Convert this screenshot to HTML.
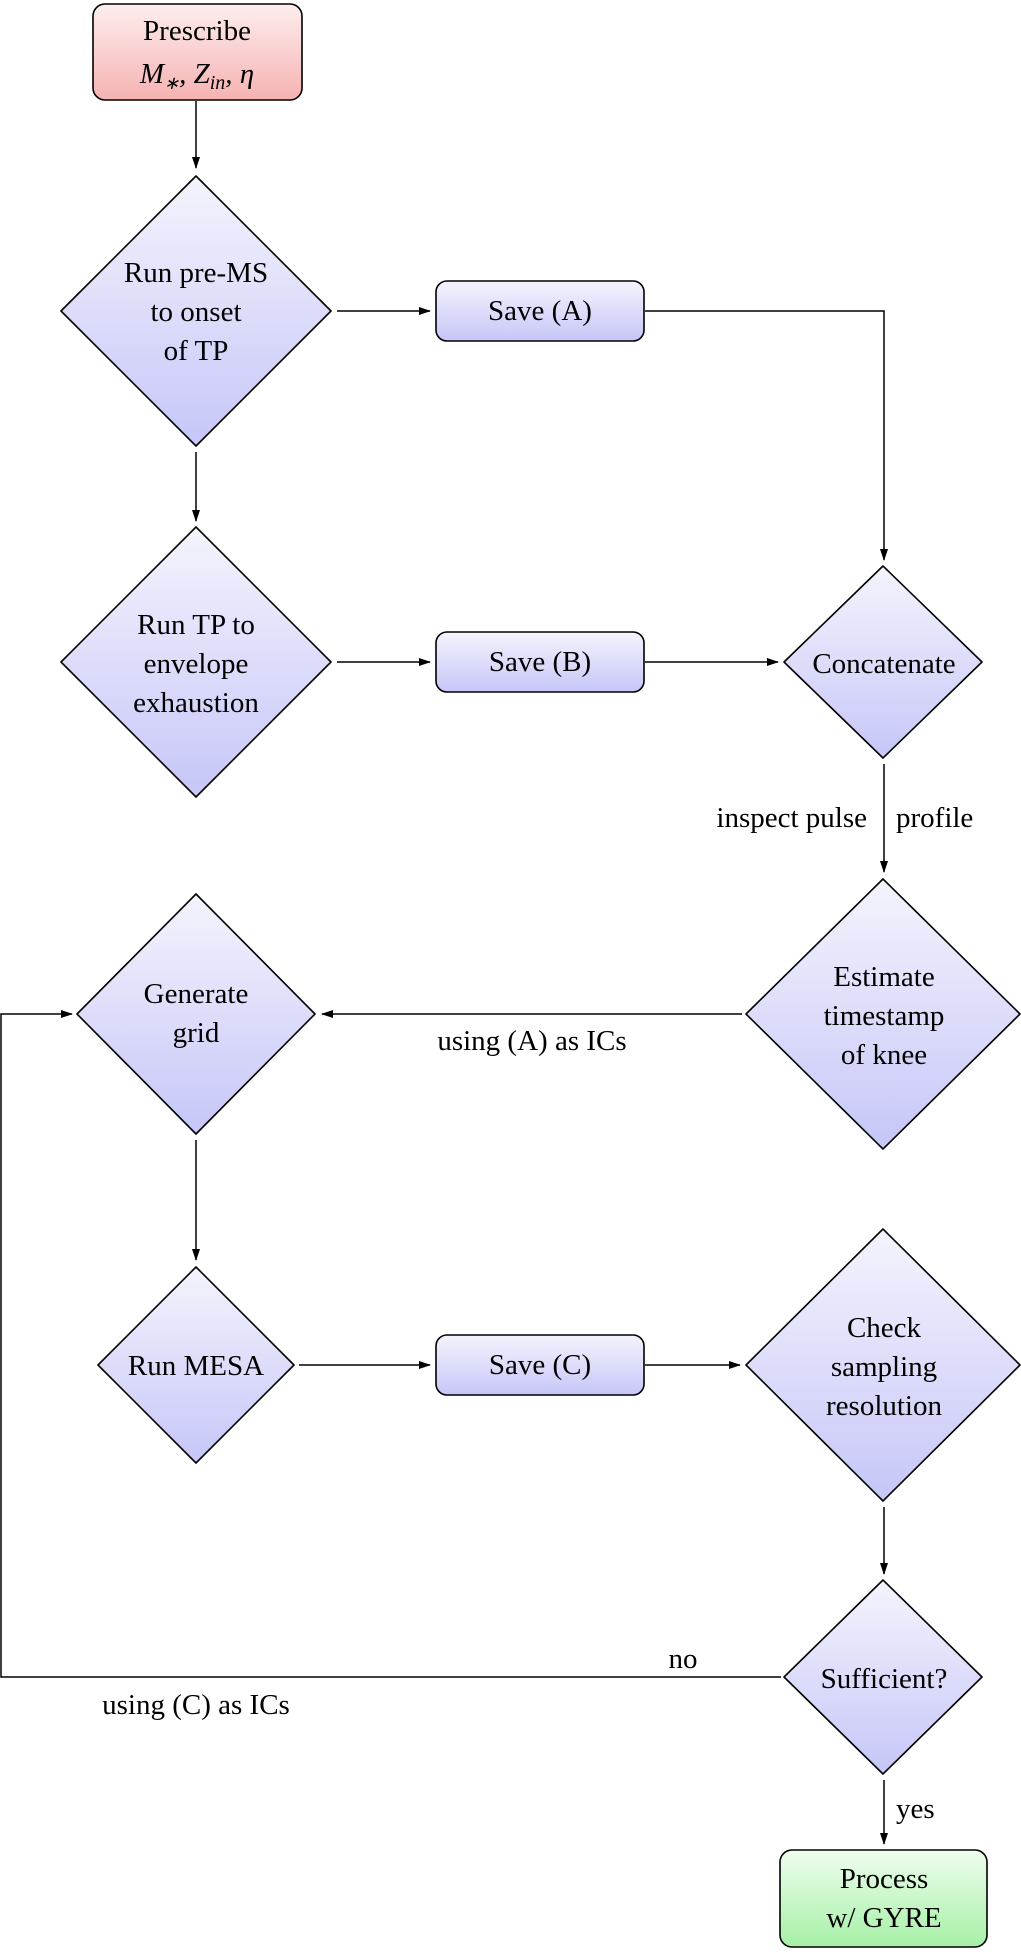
<!DOCTYPE html>
<html><head><meta charset="utf-8"><style>
html,body{margin:0;padding:0;background:#fff}
svg{display:block}
text{font-family:"Liberation Serif",serif;font-size:29px;fill:#000;text-anchor:middle}
.l{text-anchor:start}
</style></head><body>
<svg width="1021" height="1952" viewBox="0 0 1021 1952" xmlns="http://www.w3.org/2000/svg">
<defs>
<linearGradient id="b" x1="0" y1="0" x2="0" y2="1"><stop offset="0" stop-color="#f4f4fd"/><stop offset="1" stop-color="#c6c6f8"/></linearGradient>
<linearGradient id="r" x1="0" y1="0" x2="0" y2="1"><stop offset="0" stop-color="#fdeeee"/><stop offset="1" stop-color="#f6b2b2"/></linearGradient>
<linearGradient id="g" x1="0" y1="0" x2="0" y2="1"><stop offset="0" stop-color="#effdef"/><stop offset="1" stop-color="#a6f0a6"/></linearGradient>
<marker id="a" markerWidth="12" markerHeight="10" refX="11" refY="5" orient="auto" markerUnits="userSpaceOnUse"><path d="M0,1 L12,5 L0,9 Z" fill="#000"/></marker>
</defs>
<g stroke="#000" stroke-width="1.6" stroke-linejoin="round">
<rect x="93" y="4" width="209" height="96" rx="12" fill="url(#r)"/>
<path d="M196,176 L331,311 L196,446 L61,311 Z" fill="url(#b)"/>
<rect x="436" y="281" width="208" height="60" rx="11" fill="url(#b)"/>
<path d="M196,527 L331,662 L196,797 L61,662 Z" fill="url(#b)"/>
<rect x="436" y="632" width="208" height="60" rx="11" fill="url(#b)"/>
<path d="M883,566 L982,662 L883,758 L784,662 Z" fill="url(#b)"/>
<path d="M883,879 L1020,1014 L883,1149 L746,1014 Z" fill="url(#b)"/>
<path d="M196,894 L315,1014 L196,1134 L77,1014 Z" fill="url(#b)"/>
<path d="M196,1267 L294,1365 L196,1463 L98,1365 Z" fill="url(#b)"/>
<rect x="436" y="1335" width="208" height="60" rx="11" fill="url(#b)"/>
<path d="M883,1229 L1020,1365 L883,1501 L746,1365 Z" fill="url(#b)"/>
<path d="M883,1580 L982,1677 L883,1774 L784,1677 Z" fill="url(#b)"/>
<rect x="780" y="1850" width="207" height="97" rx="12" fill="url(#g)"/>
</g>
<g stroke="#000" stroke-width="1.5" fill="none">
<path d="M196,101 V168" marker-end="url(#a)"/>
<path d="M337,311 H430" marker-end="url(#a)"/>
<path d="M645,311 H884 V560" marker-end="url(#a)"/>
<path d="M196,452 V521" marker-end="url(#a)"/>
<path d="M337,662 H430" marker-end="url(#a)"/>
<path d="M645,662 H778" marker-end="url(#a)"/>
<path d="M884,764 V872" marker-end="url(#a)"/>
<path d="M742,1014 H322" marker-end="url(#a)"/>
<path d="M196,1140 V1260" marker-end="url(#a)"/>
<path d="M299,1365 H430" marker-end="url(#a)"/>
<path d="M645,1365 H740" marker-end="url(#a)"/>
<path d="M884,1507 V1574" marker-end="url(#a)"/>
<path d="M781,1677 H1 V1014 H72" marker-end="url(#a)"/>
<path d="M884,1780 V1844" marker-end="url(#a)"/>
</g>
<text x="197" y="40">Prescribe</text>
<text x="197" y="83" font-style="italic">M<tspan font-size="18" dy="6">∗</tspan><tspan dy="-6">, Z</tspan><tspan font-size="20" dy="6">in</tspan><tspan dy="-6">, η</tspan></text>
<text x="196" y="282">Run pre-MS</text>
<text x="196" y="321">to onset</text>
<text x="196" y="360">of TP</text>
<text x="540" y="320">Save (A)</text>
<text x="196" y="634">Run TP to</text>
<text x="196" y="673">envelope</text>
<text x="196" y="712">exhaustion</text>
<text x="540" y="671">Save (B)</text>
<text x="884" y="673">Concatenate</text>
<text x="867" y="827" style="text-anchor:end">inspect pulse</text>
<text x="896" y="827" class="l">profile</text>
<text x="884" y="986">Estimate</text>
<text x="884" y="1025">timestamp</text>
<text x="884" y="1064">of knee</text>
<text x="196" y="1003">Generate</text>
<text x="196" y="1042">grid</text>
<text x="532" y="1050">using (A) as ICs</text>
<text x="196" y="1375">Run MESA</text>
<text x="540" y="1374">Save (C)</text>
<text x="884" y="1337">Check</text>
<text x="884" y="1376">sampling</text>
<text x="884" y="1415">resolution</text>
<text x="884" y="1688">Sufficient?</text>
<text x="683" y="1668">no</text>
<text x="196" y="1714">using (C) as ICs</text>
<text x="896" y="1818" class="l">yes</text>
<text x="884" y="1888">Process</text>
<text x="884" y="1927">w/ GYRE</text>
</svg>
</body></html>
